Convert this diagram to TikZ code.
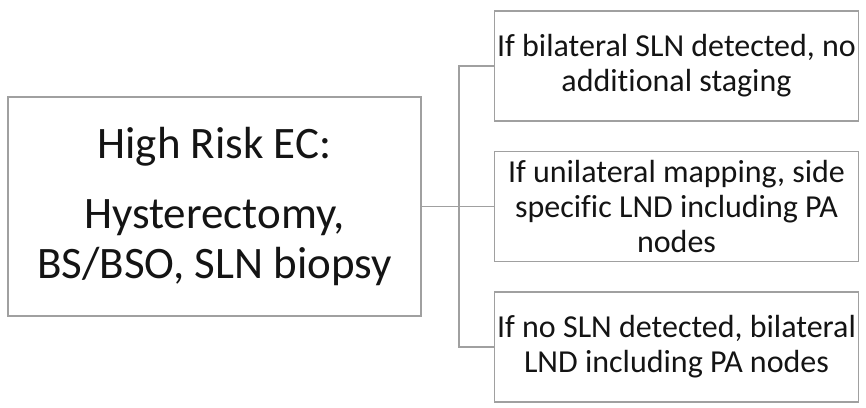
\documentclass[tikz,border=0pt]{standalone}
\usepackage{fontspec}
\setmainfont{Carlito}[Ligatures={NoCommon}]
\usepackage{xcolor}
\usepackage{tikz}
\definecolor{boxgray}{RGB}{160,160,160}
\definecolor{textblack}{RGB}{20,20,20}
\usetikzlibrary{positioning}

\begin{document}
\begin{tikzpicture}[
    x=1pt, y=-1pt,
    node distance=29pt,
    riskbox/.style={rectangle, draw=boxgray, line width=1.5pt, text=textblack, align=center, inner sep=2pt, minimum width=413pt, minimum height=219pt, font=\fontsize{45}{50}\selectfont},
    stepbox/.style={rectangle, draw=boxgray, line width=1.5pt, text=textblack, align=center, inner sep=2pt, minimum width=364pt, minimum height=110pt, font=\fontsize{32}{35}\selectfont},
    link/.style={draw=boxgray, line width=1.5pt}
]
\useasboundingbox (0,0) rectangle (866,407);

% Staging procedure
\node[riskbox] (risk) at (214.5,206.5) {High Risk EC:\\[20pt] Hysterectomy,\\ BS/BSO, SLN biopsy};

% Mapping outcomes
\node[stepbox, right=72pt of risk] (uni) {If unilateral mapping, side\\ specific LND including PA\\ nodes};
\node[stepbox, above=29pt of uni] (bilat) {If bilateral SLN detected, no\\ additional staging};
\node[stepbox, below=29pt of uni] (nosln) {If no SLN detected, bilateral\\ LND including PA nodes};

% Connectors
\coordinate[right=37pt of risk] (trunk);
\draw[link] (risk) -- (uni);
\draw[link] (bilat.west) -| (trunk) |- (nosln.west);

\end{tikzpicture}
\end{document}
